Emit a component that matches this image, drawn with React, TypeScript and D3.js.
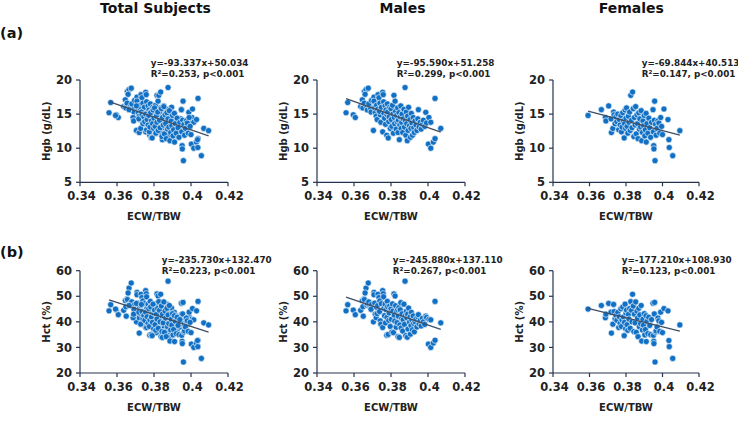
import React from 'react';
import * as d3 from 'd3';

// ---------- DATA ----------
const columnTitles = ['Total Subjects', 'Males', 'Females'];
const rowLabels = ['(a)', '(b)'];
const xTicks = [0.34, 0.36, 0.38, 0.4, 0.42];
const hgbTicks = [5, 10, 15, 20];
const hctTicks = [20, 30, 40, 50, 60];
const xTitle = 'ECW/TBW';
const yTitles = ['Hgb (g/dL)', 'Hct (%)'];

// each subject: [ECW/TBW, Hgb (g/dL), Hct (%)]
const males: [number, number, number][] = [
  [0.3557, 15.2, 44.3], [0.3566, 16.7, 46.7], [0.3596, 14.9, 44.6], [0.3607, 14.5, 42.8],
  [0.3636, 16.1, 44.5], [0.3645, 17.1, 48.3], [0.365, 16.3, 42.2], [0.3648, 15.9, 45.9],
  [0.3655, 16.6, 49.0], [0.3656, 18.3, 48.7], [0.3665, 18.6, 53.2], [0.3677, 18.8, 55.2],
  [0.366, 17.9, 51.3], [0.367, 16.0, 46.5], [0.3672, 15.6, 47.2], [0.3685, 16.2, 46.0],
  [0.369, 15.8, 45.6], [0.368, 16.5, 47.8], [0.3695, 17.0, 46.8], [0.3692, 15.3, 44.9],
  [0.3705, 12.6, 40.0], [0.3708, 17.5, 51.5], [0.3708, 16.9, 50.6], [0.3712, 15.9, 47.3],
  [0.3715, 15.2, 43.0], [0.372, 14.7, 41.6], [0.3722, 16.3, 45.7], [0.3725, 14.2, 43.2],
  [0.373, 17.85, 50.8], [0.3735, 17.4, 49.5], [0.3728, 15.7, 46.4], [0.374, 16.6, 48.2],
  [0.3742, 14.9, 40.4], [0.3745, 13.8, 39.1], [0.3738, 15.4, 44.0], [0.3748, 16.0, 47.1],
  [0.3755, 18.2, 52.2], [0.3758, 17.85, 51.0], [0.3755, 12.4, 37.8], [0.376, 16.8, 49.8],
  [0.3762, 15.1, 45.3], [0.3765, 14.4, 42.4], [0.3768, 16.2, 46.9], [0.377, 13.5, 39.6],
  [0.3773, 15.6, 44.8], [0.3777, 11.9, 34.8], [0.3778, 14.9, 41.7], [0.378, 16.5, 48.0],
  [0.3782, 15.3, 45.9], [0.3785, 11.5, 35.1], [0.3788, 13.9, 40.6], [0.379, 14.6, 43.5],
  [0.3793, 16.0, 46.2], [0.3796, 12.9, 38.2], [0.38, 15.8, 45.1], [0.3802, 14.2, 41.0],
  [0.3805, 13.2, 36.0], [0.3808, 16.3, 47.0], [0.381, 15.0, 44.2], [0.3813, 12.2, 35.8],
  [0.3816, 17.75, 50.9], [0.3818, 14.5, 42.6], [0.382, 13.6, 40.3], [0.3822, 16.9, 50.1],
  [0.3825, 15.4, 46.3], [0.3828, 12.8, 37.9], [0.383, 14.8, 43.9], [0.3833, 13.9, 39.7],
  [0.3836, 15.9, 44.8], [0.3838, 12.3, 34.2], [0.384, 14.1, 42.2], [0.3843, 15.2, 45.6],
  [0.3845, 11.25, 33.9], [0.3848, 13.4, 38.8], [0.385, 14.6, 44.7], [0.3853, 16.2, 47.5],
  [0.3855, 12.9, 37.6], [0.3858, 13.8, 41.3], [0.386, 15.0, 43.2], [0.3863, 12.3, 36.4],
  [0.3866, 14.3, 40.8], [0.387, 15.7, 46.9], [0.3873, 13.1, 39.0], [0.3876, 18.9, 55.9],
  [0.3878, 14.0, 42.5], [0.388, 11.9, 34.6], [0.3883, 15.3, 44.1], [0.3885, 13.6, 41.6],
  [0.3888, 11.1, 34.0], [0.389, 14.7, 43.0], [0.3892, 12.6, 37.2], [0.3895, 16.0, 45.4],
  [0.39, 13.3, 39.9], [0.3903, 14.2, 41.9], [0.3905, 11.6, 35.2], [0.3908, 12.9, 38.5],
  [0.391, 15.1, 43.7], [0.3913, 13.7, 40.7], [0.3916, 11.9, 36.9], [0.392, 14.5, 42.3],
  [0.3923, 13.0, 39.4], [0.3926, 12.3, 36.1], [0.393, 14.0, 40.1], [0.3935, 13.4, 41.1],
  [0.394, 12.6, 38.0], [0.3945, 14.3, 42.0], [0.3948, 15.65, 42.8], [0.3952, 13.1, 39.2],
  [0.3958, 13.8, 40.5], [0.3963, 12.8, 38.4], [0.397, 13.5, 41.4], [0.3975, 14.1, 40.0],
  [0.3982, 13.2, 39.0], [0.3988, 15.26, 42.2], [0.3992, 13.7, 41.7], [0.4002, 10.6, 31.3],
  [0.4005, 14.5, 41.0], [0.4015, 13.8, 40.8], [0.4015, 10.0, 30.0], [0.4029, 10.9, 31.7],
  [0.4038, 11.4, 32.8], [0.4038, 17.3, 48.0], [0.4069, 12.9, 39.6],
];

const females: [number, number, number][] = [
  [0.3592, 14.8, 45.0], [0.3665, 15.65, 46.4], [0.3687, 14.5, 41.6], [0.369, 14.0, 43.0],
  [0.3705, 16.2, 47.2], [0.3718, 14.3, 43.8], [0.372, 12.3, 35.6], [0.3728, 12.9, 39.1],
  [0.3732, 15.3, 46.8], [0.3735, 14.9, 44.0], [0.374, 13.6, 41.2], [0.3745, 14.6, 42.5],
  [0.375, 13.9, 40.6], [0.3755, 15.0, 43.7], [0.376, 12.7, 37.8], [0.3763, 14.2, 42.0],
  [0.3768, 13.4, 39.4], [0.3772, 14.8, 45.1], [0.3775, 12.4, 38.2], [0.3778, 13.1, 40.8],
  [0.3782, 15.2, 45.8], [0.3786, 14.0, 41.9], [0.379, 11.5, 34.6], [0.3792, 13.6, 39.8],
  [0.3795, 15.6, 46.9], [0.3798, 12.9, 37.3], [0.38, 14.4, 43.4], [0.3803, 15.9, 44.6],
  [0.3806, 13.2, 38.9], [0.381, 12.2, 36.7], [0.3813, 14.7, 42.9], [0.3816, 13.8, 41.1],
  [0.382, 15.3, 45.2], [0.3823, 12.6, 37.5], [0.3826, 17.75, 47.9], [0.383, 14.1, 44.5],
  [0.3833, 13.0, 40.0], [0.3836, 18.24, 50.8], [0.384, 15.8, 46.2], [0.3843, 11.7, 36.2],
  [0.3846, 14.5, 43.0], [0.385, 13.4, 39.6], [0.3853, 16.1, 47.8], [0.3856, 12.1, 35.9],
  [0.386, 14.9, 44.2], [0.3863, 13.6, 41.5], [0.3866, 11.4, 34.2], [0.387, 15.2, 45.3],
  [0.3873, 12.8, 38.1], [0.3876, 14.3, 42.7], [0.388, 13.1, 39.3], [0.3883, 15.5, 46.4],
  [0.3886, 11.1, 32.5], [0.389, 12.3, 36.8], [0.3893, 14.0, 41.0], [0.3896, 13.3, 38.7],
  [0.39, 14.8, 43.2], [0.3903, 11.8, 34.9], [0.3906, 12.7, 37.0], [0.391, 15.1, 42.4],
  [0.3911, 10.9, 32.3], [0.3915, 13.6, 40.2], [0.392, 12.2, 35.4], [0.3925, 14.4, 41.8],
  [0.393, 13.0, 38.6], [0.3935, 11.6, 35.0], [0.394, 13.8, 40.9], [0.3948, 15.65, 47.3],
  [0.395, 12.4, 34.7], [0.3952, 10.37, 32.4], [0.3953, 9.9, 31.5], [0.3955, 14.1, 43.1],
  [0.3957, 16.9, 47.6], [0.3959, 8.17, 24.3], [0.3962, 13.5, 36.0], [0.3965, 11.9, 36.5],
  [0.397, 12.9, 38.0], [0.3975, 14.0, 41.5], [0.398, 13.7, 40.4], [0.3985, 12.2, 36.3],
  [0.399, 14.5, 43.8], [0.3995, 13.2, 39.8], [0.4, 12.0, 35.8], [0.4008, 15.75, 45.2],
  [0.403, 14.2, 44.3], [0.4035, 11.25, 32.7], [0.4037, 10.1, 30.3], [0.4056, 8.9, 25.7],
  [0.4095, 12.57, 38.8],
];

const total = [...males, ...females];
const groups = [total, males, females];

const hgbSlopes = [-93.337, -95.59, -69.844];
const hgbIntercepts = [50.034, 51.258, 40.513];
const hgbEquations = ['y=-93.337x+50.034', 'y=-95.590x+51.258', 'y=-69.844x+40.513'];
const hgbStats = ['R²=0.253, p<0.001', 'R²=0.299, p<0.001', 'R²=0.147, p<0.001'];

const hctSlopes = [-235.73, -245.88, -177.21];
const hctIntercepts = [132.47, 137.11, 108.93];
const hctEquations = ['y=-235.730x+132.470', 'y=-245.880x+137.110', 'y=-177.210x+108.930'];
const hctStats = ['R²=0.223, p<0.001', 'R²=0.267, p<0.001', 'R²=0.123, p<0.001'];

// ---------- LAYOUT ----------
const W = 738;
const H = 422;
const FONT = '"DejaVu Sans", Verdana, sans-serif';
const colRanges = [[80, 228], [317, 465], [553, 699]];
const rowRanges = [[80, 182.3], [270.7, 373]];
const eqX = [[150.7, 396.7, 641.7], [161.7, 392.7, 621.7]];
const eqY = [[65.5, 76.5], [262.5, 273.5]];
const AXIS = '#26334f';
const POINT = '#1170c4';
const LINE = '#3f4f63';

function Panel({ row, col }: { row: number; col: number }) {
  const [x0, x1] = colRanges[col];
  const [y0, y1] = rowRanges[row];
  const data = groups[col];
  const yIdx = row === 0 ? 1 : 2;
  const yTicks = row === 0 ? hgbTicks : hctTicks;
  const x = d3.scaleLinear().domain([0.34, 0.42]).range([x0, x1]);
  const y = d3.scaleLinear().domain([yTicks[0], yTicks[yTicks.length - 1]]).range([y1, y0]);
  const slope = row === 0 ? hgbSlopes[col] : hctSlopes[col];
  const intercept = row === 0 ? hgbIntercepts[col] : hctIntercepts[col];
  const eq = row === 0 ? hgbEquations[col] : hctEquations[col];
  const st = row === 0 ? hgbStats[col] : hctStats[col];
  const [xmin, xmax] = d3.extent(data, (d) => d[0]) as [number, number];
  const line = d3.line<number>().x((v) => x(v)).y((v) => y(slope * v + intercept));
  const cx = (x0 + x1) / 2;
  return (
    <g>
      {data.map((d, i) => (
        <circle key={i} cx={x(d[0])} cy={y(d[yIdx])} r={3.1} fill={POINT} stroke="#ffffff" strokeWidth={0.6} />
      ))}
      <path d={line([xmin, xmax]) || ''} stroke={LINE} strokeWidth={1.3} fill="none" />
      <line x1={x0} x2={x0} y1={y0} y2={y1} stroke={AXIS} strokeWidth={1.2} />
      <line x1={x0} x2={x1} y1={y1} y2={y1} stroke={AXIS} strokeWidth={1.2} />
      {yTicks.map((t) => (
        <g key={'y' + t}>
          <line x1={x0 - 4} x2={x0} y1={y(t)} y2={y(t)} stroke={AXIS} strokeWidth={1.2} />
          <text x={x0 - 8} y={y(t)} dy="0.36em" textAnchor="end" fontSize={11.5} fontWeight="bold" fill="#222">{t}</text>
        </g>
      ))}
      {xTicks.map((t) => (
        <g key={'x' + t}>
          <line x1={x(t)} x2={x(t)} y1={y1} y2={y1 + 4} stroke={AXIS} strokeWidth={1.2} />
          <text x={x(t) + 1.5} y={y1 + 14} dy="0.36em" textAnchor="middle" fontSize={11.5} fontWeight="bold" fill="#222">{String(+t.toFixed(2))}</text>
        </g>
      ))}
      <text x={cx} y={y1 + 34} dy="0.36em" textAnchor="middle" fontSize={10} fontWeight="bold" fill="#222">{xTitle}</text>
      <text transform={`translate(${x0 - 34},${(y0 + y1) / 2}) rotate(-90)`} dy="0.36em" textAnchor="middle" fontSize={10} fontWeight="bold" fill="#222">{yTitles[row]}</text>
      <text x={eqX[row][col]} y={eqY[row][0]} fontSize={8.8} fontWeight="bold" fill="#222">{eq}</text>
      <text x={eqX[row][col]} y={eqY[row][1]} fontSize={8.8} fontWeight="bold" fill="#222">{st}</text>
    </g>
  );
}

export default function App() {
  const titleX = [155.5, 402.5, 631.3];
  return (
    <svg width={W} height={H} style={{ position: 'absolute', left: 0, top: 0, background: '#fff' }} fontFamily={FONT}>
      <rect width={W} height={H} fill="#fff" />
      {columnTitles.map((t, i) => (
        <text key={t} x={titleX[i]} y={12.5} textAnchor="middle" fontSize={14} fontWeight="bold" fill="#111">{t}</text>
      ))}
      <text x={0} y={37.5} fontSize={14.5} fontWeight="bold" fill="#111">{rowLabels[0]}</text>
      <text x={0} y={256.5} fontSize={14.5} fontWeight="bold" fill="#111">{rowLabels[1]}</text>
      {[0, 1].map((r) => [0, 1, 2].map((c) => <Panel key={r + '-' + c} row={r} col={c} />))}
    </svg>
  );
}
